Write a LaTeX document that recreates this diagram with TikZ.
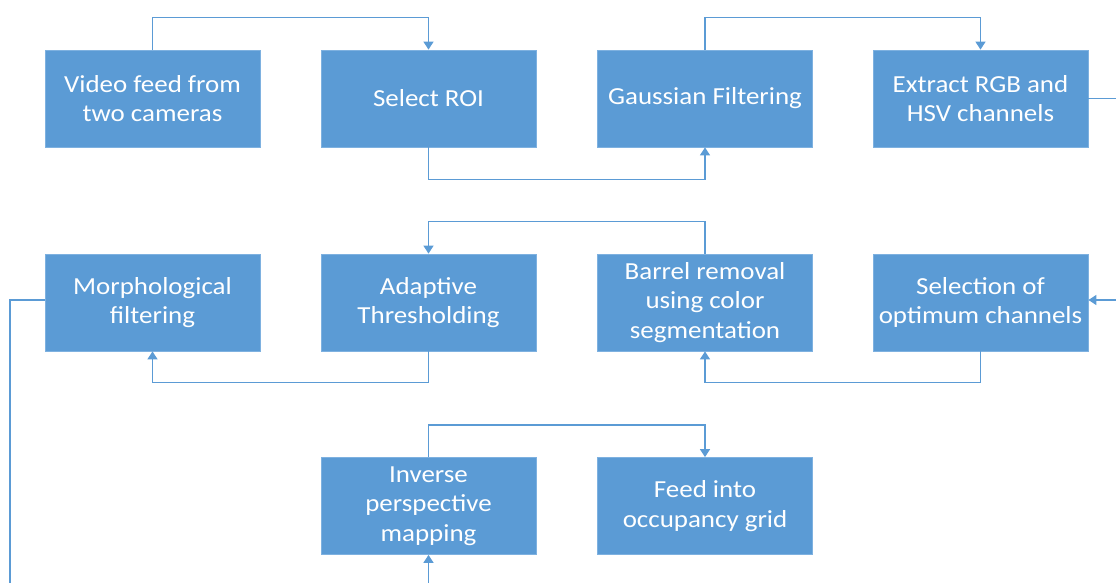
\documentclass[tikz,border=0pt]{standalone}
\usepackage{fontspec}
\setmainfont{Carlito}[FakeStretch=1.1]
\usetikzlibrary{arrows.meta}
\definecolor{boxblue}{HTML}{5B9BD5}
\definecolor{boxedge}{HTML}{7EB1E0}
\definecolor{linkblue}{HTML}{5B9BD5}
\begin{document}
\begin{tikzpicture}[x=1pt,y=-1pt,
  procbox/.style={draw=boxedge,line width=0.8pt,fill=boxblue,text=white,minimum width=215pt,minimum height=97pt,inner sep=0pt,align=center,font=\fontsize{24.5}{29.5}\selectfont},
  link/.style={draw=linkblue,line width=1.4pt,-{Triangle[width=10pt,length=8pt]}},
  plain/.style={draw=linkblue,line width=1.4pt}]
\useasboundingbox (0,0) rectangle (1116,583);
\node[procbox] (video) at (152.5,98.5) {Video feed from\\two cameras};
\node[procbox] (roi) at (428.5,98.5) {Select ROI};
\node[procbox] (gauss) at (705,98.5) {Gaussian Filtering};
\node[procbox] (rgb) at (980.5,98.5) {Extract RGB and\\HSV channels};
\node[procbox] (morph) at (152.5,302.5) {Morphological\\filtering};
\node[procbox] (adapt) at (428.5,302.5) {Adaptive\\Thresholding};
\node[procbox] (barrel) at (705,302.5) {Barrel removal\\using color\\segmentation};
\node[procbox] (select) at (980.5,302.5) {Selection of\\optimum channels};
\node[procbox] (ipm) at (428.5,506) {Inverse\\perspective\\mapping};
\node[procbox] (feed) at (705,506) {Feed into\\occupancy grid};
\coordinate (rgbout) at (1116,98.5);
\coordinate (selin) at (1116,300);
\coordinate (morphleft) at (10,300);
\coordinate (morphdown) at (10,583);
\coordinate (ipmin) at (428.5,583);
\draw[link] (video.north) -- ++(0,-32) -| (roi.north);
\draw[link] (roi.south) -- ++(0,32) -| (gauss.south);
\draw[link] (gauss.north) -- ++(0,-32) -| (rgb.north);
\draw[plain] (rgb.east) -- (rgbout);
\draw[link] (selin) -- (select.east |- selin);
\draw[link] (select.south) -- ++(0,31) -| (barrel.south);
\draw[link] (barrel.north) -- ++(0,-32) -| (adapt.north);
\draw[link] (adapt.south) -- ++(0,31) -| (morph.south);
\draw[plain] (morph.west |- morphleft) -- (morphleft) -- (morphdown);
\draw[link] (ipmin) -- (ipm.south);
\draw[link] (ipm.north) -- ++(0,-32) -| (feed.north);
\end{tikzpicture}
\end{document}
